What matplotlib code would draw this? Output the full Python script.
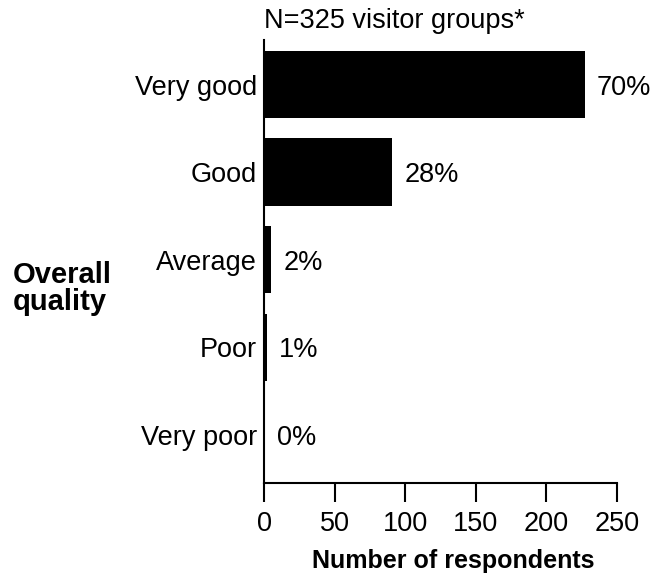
import matplotlib
matplotlib.use('Agg')
import matplotlib.pyplot as plt

plt.rcParams['font.family'] = ['Liberation Sans', 'DejaVu Sans']

categories = ['Very good', 'Good', 'Average', 'Poor', 'Very poor']
counts = [227, 91, 5, 2, 0]
pct_labels = ['70%', '28%', '2%', '1%', '0%']

fig = plt.figure(figsize=(6.55, 5.8), dpi=100)
ax = fig.add_axes([264/655, 1 - 483/580, (617-264)/655, (483-40)/580])

ypos = list(range(len(categories)))
ax.barh(ypos, counts, height=0.77, color='black')
ax.set_ylim(4.55, -0.51)
ax.set_xlim(0, 250)
ax.set_yticks(ypos)
ax.set_yticklabels(categories, fontsize=19.5)
ax.set_xticks([0, 50, 100, 150, 200, 250])
ax.tick_params(axis='x', labelsize=19.5, length=14, width=1.5, direction='out', pad=6)
ax.tick_params(axis='y', length=0, pad=5)

for s in ['top', 'right']:
    ax.spines[s].set_visible(False)
for s in ['left', 'bottom']:
    ax.spines[s].set_linewidth(1.5)

# percentage labels next to each bar
for y, c, lab in zip(ypos, counts, pct_labels):
    ax.annotate(lab, xy=(c, y), xytext=(9, 0), textcoords='offset points',
                va='center_baseline', ha='left', fontsize=19.5)

ax.set_xlabel('Number of respondents', fontsize=18, fontweight='bold')
ax.xaxis.set_label_coords((453 - 264) / 353, -(568 - 483) / 443)
ax.xaxis.label.set_va('baseline')

fig.text(264/655, 1 - 28/580, 'N=325 visitor groups*', fontsize=19.5, ha='left', va='baseline')
fig.text(13/655, 1 - 283/580, 'Overall', fontsize=21, fontweight='bold', ha='left', va='baseline')
fig.text(13/655, 1 - 310/580, 'quality', fontsize=21, fontweight='bold', ha='left', va='baseline')

fig.savefig('out.png', dpi=100)
